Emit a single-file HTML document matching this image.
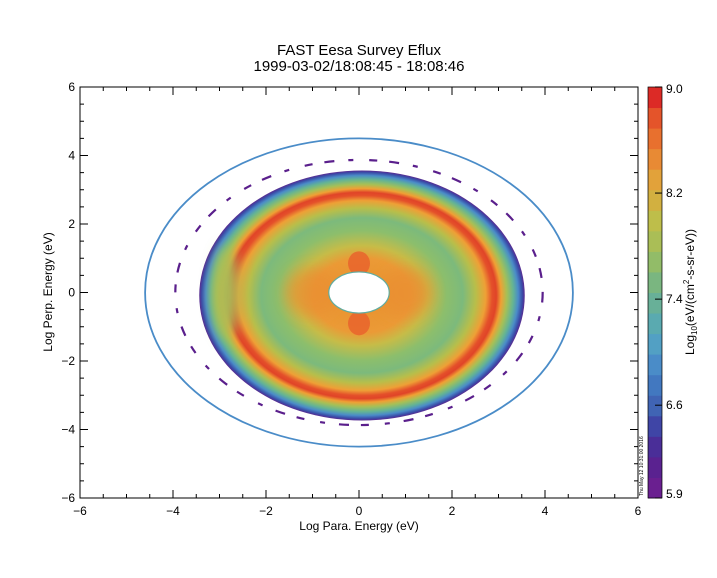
<!DOCTYPE html>
<html><head><meta charset="utf-8"><style>
body{margin:0;background:#fff}
svg text{font-family:"Liberation Sans",sans-serif;fill:#000}
</style></head><body>
<svg id="c" width="717" height="573" viewBox="0 0 717 573" xmlns="http://www.w3.org/2000/svg">
<defs>
<radialGradient id="g" cx="0.5" cy="0.5" r="0.5">
<stop offset="0" stop-color="#e8902e"/>
<stop offset="0.3" stop-color="#eb9a36"/>
<stop offset="0.4" stop-color="#c6bc48"/>
<stop offset="0.52" stop-color="#8cbe6c"/>
<stop offset="0.62" stop-color="#7cba7c"/>
<stop offset="0.7" stop-color="#b8be4a"/>
<stop offset="0.76" stop-color="#eea036"/>
<stop offset="0.8" stop-color="#e4502a"/>
<stop offset="0.825" stop-color="#e04428"/>
<stop offset="0.855" stop-color="#f0a034"/>
<stop offset="0.89" stop-color="#a6c056"/>
<stop offset="0.93" stop-color="#64b494"/>
<stop offset="0.96" stop-color="#4a8cc8"/>
<stop offset="0.985" stop-color="#3a4ca8"/>
<stop offset="1" stop-color="#5a2a90"/>
</radialGradient>
<filter id="blur" filterUnits="userSpaceOnUse" x="150" y="150" width="420" height="300"><feGaussianBlur stdDeviation="7"/></filter>
</defs>
<text x="359" y="55" font-size="15" text-anchor="middle">FAST  Eesa Survey Eflux</text>
<text x="359" y="71" font-size="15" text-anchor="middle">1999-03-02/18:08:45 - 18:08:46</text>
<g id="plot"></g>
<rect x="80" y="87" width="558" height="411" fill="none" stroke="#000" stroke-width="1"/>
<g id="axes"></g>
<text x="359" y="530" font-size="12" text-anchor="middle">Log Para. Energy (eV)</text>
<text transform="translate(52,292) rotate(-90)" font-size="12" text-anchor="middle">Log Perp. Energy (eV)</text>
<g id="cbar"></g>
<text transform="translate(694,292) rotate(-90)" font-size="12" text-anchor="middle">Log<tspan font-size="8" dy="3">10</tspan><tspan dy="-3">(eV/(cm</tspan><tspan font-size="8" dy="-5">2</tspan><tspan dy="5">-s-sr-eV))</tspan></text>
<text transform="translate(643,496) rotate(-90)" font-size="5">Thu May 12 10:31:00 2016</text>
</svg>
<script>
const xTicks=[-6,-4,-2,0,2,4,6];
const yTicks=[-6,-4,-2,0,2,4,6];
const cbMin=5.9, cbMax=9.0;
const cbColors=["#6a1f90","#5a2290","#4a2e98","#3f45a6","#4064b4","#4278c0","#4a8cc8","#52a0c4","#5aaab0","#68b098","#7ab680","#92bc68","#aabe56","#bebe4a","#d2b040","#e2a23a","#e88a34","#e8702e","#e4542a","#dc2a26"];
const cbTicks=[5.9,6.6,7.4,8.2,9.0];
const ringR=[4.6,4.5];
const blobR=[3.5,3.65];
const dashR=[3.95,3.95];
const holeR=[0.65,0.6];
const NS='http://www.w3.org/2000/svg';
const X=v=>359+v*46.5, Y=v=>292.5-v*34.25;
const SX=v=>v*46.5, SY=v=>v*34.25;
function mk(p,t,a){const e=document.createElementNS(NS,t);for(const k in a)e.setAttribute(k,a[k]);p.appendChild(e);return e;}
const plot=document.getElementById('plot');
let e;
e=mk(plot,'ellipse',{cx:X(0),cy:Y(0),rx:SX(ringR[0]),ry:SY(ringR[1]),fill:'none',stroke:'#4a8cc8','stroke-width':1.8});


e=mk(plot,'ellipse',{cx:X(0),cy:Y(0),rx:SX(dashR[0]),ry:SY(dashR[1])*0.98,fill:'none',stroke:'#5a1f8c','stroke-width':2.2,'stroke-dasharray':'10 14 5 16 8 12'});


e=mk(plot,'ellipse',{cx:X(0)+3,cy:Y(0)+3,rx:SX(blobR[0]),ry:SY(blobR[1]),fill:'url(#g)'});


e=mk(plot,'ellipse',{cx:X(-2.85),cy:Y(0),rx:12,ry:45,fill:'#a8be58',filter:'url(#blur)'});


[[-1,0],[1,0]].forEach((p,i)=>{e=mk(plot,'ellipse',{cx:X(p[0]),cy:Y(p[1]),rx:26,ry:24,fill:'#ea8e30',opacity:0.7,filter:'url(#blur)'});

});
[[0,0.85],[0,-0.9]].forEach((p,i)=>{e=mk(plot,'ellipse',{cx:X(p[0]),cy:Y(p[1]),rx:11,ry:12,fill:'#e8602c',opacity:0.8});

});
e=mk(plot,'ellipse',{cx:X(0),cy:Y(0),rx:SX(holeR[0]),ry:SY(holeR[1]),fill:'#fff',stroke:'#60aca0','stroke-width':1.2});


const ax=document.getElementById('axes');
for(let v=-6;v<=6;v+=0.5){const L=(v%2===0)?8:4;
mk(ax,'line',{x1:X(v),x2:X(v),y1:498,y2:498-L,stroke:'#000'});mk(ax,'line',{x1:X(v),x2:X(v),y1:87,y2:87+L,stroke:'#000'});
mk(ax,'line',{x1:80,x2:80+L,y1:Y(v),y2:Y(v),stroke:'#000'});mk(ax,'line',{x1:638,x2:638-L,y1:Y(v),y2:Y(v),stroke:'#000'});}
xTicks.forEach(v=>{e=mk(ax,'text',{x:X(v),y:515,'font-size':12,'text-anchor':'middle'});e.textContent=v<0?'−'+(-v):v;

});
yTicks.forEach(v=>{e=mk(ax,'text',{x:75,y:Y(v)+4,'font-size':12,'text-anchor':'end'});e.textContent=v<0?'−'+(-v):v;

});
const cb=document.getElementById('cbar');
const CY=v=>498-(v-cbMin)/(cbMax-cbMin)*411;
const step=(cbMax-cbMin)/cbColors.length;
cbColors.forEach((c,i)=>{const lo=cbMin+i*step, hi=lo+step;
e=mk(cb,'rect',{x:648,y:CY(hi),width:14,height:CY(lo)-CY(hi)+0.5,fill:c});

});
mk(cb,'rect',{x:648,y:87,width:14,height:411,fill:'none',stroke:'#000','stroke-width':0.7});
cbTicks.forEach(v=>{mk(cb,'line',{x1:655,x2:662,y1:CY(v),y2:CY(v),stroke:'#000'});
e=mk(cb,'text',{x:666,y:Math.min(Math.max(CY(v)+4,93),498),'font-size':12});e.textContent=v.toFixed(1);

});
</script>
</body></html>
